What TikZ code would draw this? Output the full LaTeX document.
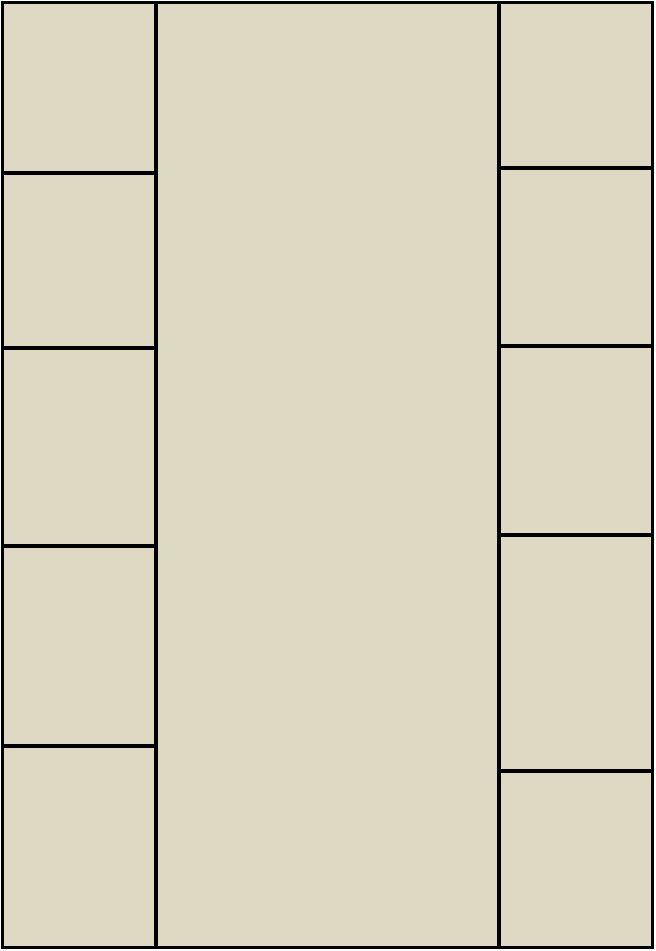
\documentclass[tikz,border=0pt]{standalone}
\usetikzlibrary{positioning}
\definecolor{cWall}{HTML}{000000}
\definecolor{cFloor}{HTML}{DDD9C3}
\tikzset{
  room/.style={draw=cWall, fill=cFloor, line width=2pt},
  wall/.style={draw=cWall, line width=2pt},
}
\begin{document}
\begin{tikzpicture}[x=0.02cm, y=-0.02cm]
  \useasboundingbox (0,0) rectangle (656,951);
  % ---- outline of the floor
  \draw[room] (2.5,2.5) rectangle (652.5,947.5);

  % ---- corridor walls
  \draw[wall] (156,2.5) -- (156,947.5);
  \draw[wall] (499,2.5) -- (499,947.5);

  % ---- rooms on the left and on the right
  \foreach \y in {173,348,546,746}
    \draw[wall] (2.5,\y) -- (156,\y);
  \foreach \y in {168,346,535,771}
    \draw[wall] (499,\y) -- (652.5,\y);
\end{tikzpicture}
\end{document}
